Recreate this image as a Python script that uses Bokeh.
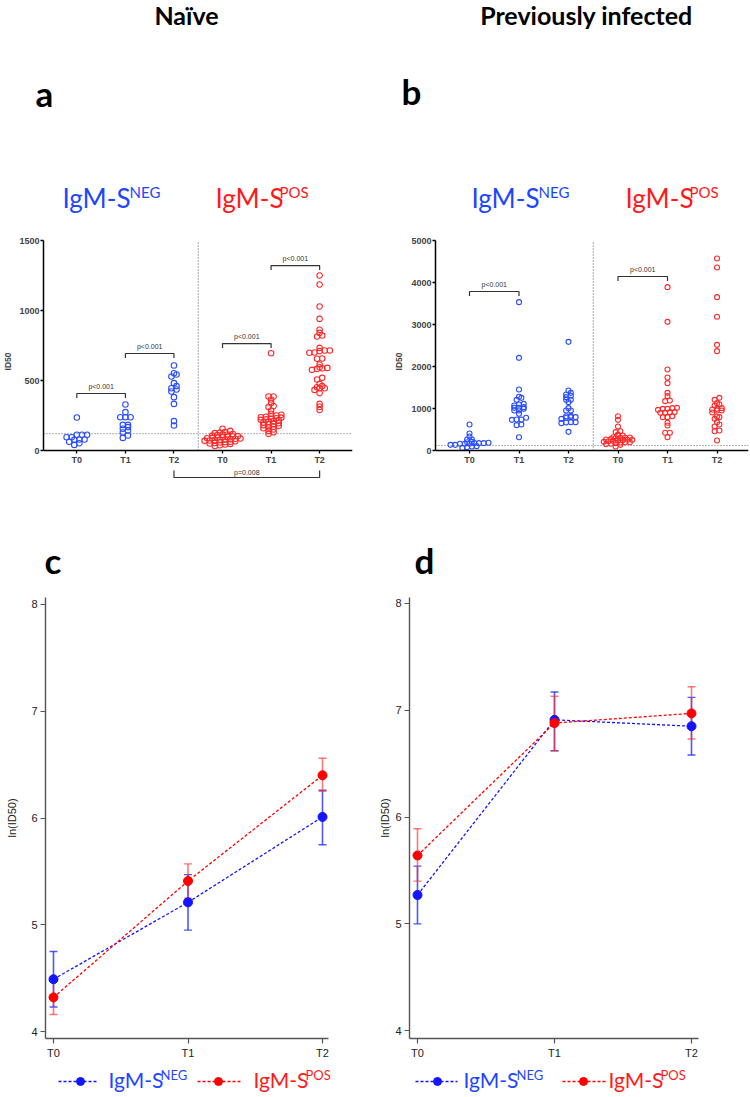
from bokeh.plotting import figure
from bokeh.layouts import column, row
from bokeh.models import Range1d, FixedTicker, Whisker, TeeHead, ColumnDataSource
from bokeh.core.properties import value
from bokeh.embed import file_html
from bokeh.resources import INLINE

# ---------------- data ----------------
TIMEPOINTS = ["T0", "T1", "T2"]
GROUP_NEG = ("IgM-S", "NEG")
GROUP_POS = ("IgM-S", "POS")
HEADERS = ["Naïve", "Previously infected"]
PANELS = ["a", "b", "c", "d"]
THRESHOLD = 120

# panel a (naive) ID50
A_NEG_T0 = [236, 112, 112, 112, 95, 95, 79, 79, 76, 62, 52, 40]
A_NEG_T1 = [329, 274, 238, 238, 238, 183, 183, 167, 155, 143, 129, 107, 90]
A_NEG_T2 = [607, 552, 543, 529, 481, 460, 445, 436, 421, 381, 333, 210, 179]
A_POS_T0 = [155, 140, 131, 128, 124, 118, 114, 112, 110, 106, 103, 100, 98, 96, 93, 90, 88, 86,
            84, 81, 79, 76, 74, 71, 69, 66, 63, 60, 57, 54, 50, 47, 43, 38, 32]
A_POS_T1 = [695, 386, 386, 364, 340, 317, 310, 286, 262, 255, 250, 245, 241, 238, 235, 230, 226,
            222, 219, 215, 210, 205, 200, 195, 190, 186, 181, 176, 170, 165, 159, 150, 140, 130, 119]
A_POS_T2 = [1250, 1186, 1029, 940, 862, 840, 821, 814, 733, 714, 714, 710, 700, 698, 657, 655, 614,
            595, 590, 588, 583, 576, 519, 507, 476, 460, 452, 445, 445, 433, 410, 333, 312, 290]

# panel b (previously infected) ID50
B_NEG_T0 = [619, 405, 333, 262, 262, 206, 198, 183, 175, 175, 175, 159, 159, 159, 135, 135, 103, 95, 79, 60]
B_NEG_T1 = [3532, 2206, 1452, 1278, 1254, 1206, 1111, 1095, 1071, 1032, 1016, 1016, 992, 952, 952,
            873, 778, 738, 738, 730, 619, 603, 317]
B_NEG_T2 = [2587, 1429, 1373, 1333, 1302, 1270, 1206, 1206, 1151, 1008, 952, 952, 825, 817, 794, 794,
            778, 754, 675, 675, 667, 651, 444]
B_POS_T0 = [817, 730, 571, 460, 437, 381, 357, 357, 317, 310, 302, 300, 290, 270, 262, 254, 254, 246,
            238, 230, 222, 206, 198, 198, 190, 175, 159, 150, 135, 95]
B_POS_T1 = [3889, 3063, 1929, 1738, 1603, 1373, 1294, 1190, 1175, 1016, 1008, 992, 992, 968, 913, 913,
            897, 897, 817, 794, 794, 659, 595, 421, 421, 317]
B_POS_T2 = [4571, 4357, 3651, 3183, 2516, 2365, 1254, 1206, 1127, 1095, 1071, 1008, 992, 976, 952, 952,
            905, 810, 794, 754, 675, 619, 571, 476, 460, 238]

A_PVALUES = ["p<0.001", "p<0.001", "p<0.001", "p<0.001", "p=0.008"]
B_PVALUES = ["p<0.001", "p<0.001"]

# panels c, d: ln(ID50) mean with error bars
C_NEG_MEAN = [4.49, 5.21, 6.01]
C_NEG_LO = [4.23, 4.95, 5.75]
C_NEG_HI = [4.75, 5.47, 6.26]
C_POS_MEAN = [4.32, 5.41, 6.40]
C_POS_LO = [4.16, 5.25, 6.25]
C_POS_HI = [4.47, 5.57, 6.56]

D_NEG_MEAN = [5.27, 6.91, 6.85]
D_NEG_LO = [5.00, 6.62, 6.58]
D_NEG_HI = [5.54, 7.17, 7.12]
D_POS_MEAN = [5.64, 6.88, 6.97]
D_POS_LO = [5.40, 6.62, 6.73]
D_POS_HI = [5.89, 7.13, 7.22]

# ---------------- styles ----------------
BLUE_TXT = "#1e46ff"
RED_TXT = "#ff1a1a"
BLUE_PT = "#2a4dff"
RED_PT = "#ff2a2a"
BLUE_LN = "#1414ff"
RED_LN = "#ff0000"
SANS = "Liberation Sans"
HUM = "Lato"


def txt(p, x, y, s, size, color="black", bold=False, align="left", baseline="middle", font=HUM):
    p.text(x=[x], y=[y], text=[s], text_font=value(font), text_font_size=value(size),
           text_font_style="bold" if bold else "normal", text_color=color,
           text_align=align, text_baseline=baseline)


def blank(width, height, x0, x1, y_top, y_bot):
    p = figure(width=width, height=height, x_range=Range1d(x0, x1), y_range=Range1d(y_bot, y_top),
               x_axis_location=None, y_axis_location=None, output_backend="svg",
               toolbar_location=None, min_border=0)
    p.grid.visible = False
    p.outline_line_color = None
    return p


def swarm(vals, center, ux, uy, d, h_frac=0.45, s_frac=0.95):
    """Row-binned dot-plot layout: points within a small vertical band share a row."""
    idx = sorted(range(len(vals)), key=lambda i: vals[i])
    xs = [float(center)] * len(vals)
    bins, cur, start = [], [], None
    for i in idx:
        ypx = vals[i] * uy
        if cur and ypx - start > h_frac * d:
            bins.append(cur)
            cur = []
        if not cur:
            start = ypx
        cur.append(i)
    if cur:
        bins.append(cur)
    for b in bins:
        n = len(b)
        for k, i in enumerate(b):
            xs[i] = center + (k - (n - 1) / 2) * s_frac * d / ux
    return xs


def xr(px_lo, px_hi, px0, ppu):
    return Range1d((px_lo - px0) / ppu, (px_hi - px0) / ppu)


# ---------------- header ----------------
header = blank(750, 228, 0, 750, 0, 228)
txt(header, 186, 14, HEADERS[0], "25px", bold=True, align="center")
txt(header, 586, 14, HEADERS[1], "25px", bold=True, align="center")
txt(header, 35, 92, PANELS[0], "35px", bold=True)
txt(header, 401, 90, PANELS[1], "35px", bold=True)
for x0, sup_dx, grp, col in [(62, 67, GROUP_NEG, BLUE_TXT), (215, 64, GROUP_POS, RED_TXT),
                             (471, 67, GROUP_NEG, BLUE_TXT), (625, 64, GROUP_POS, RED_TXT)]:
    txt(header, x0, 197, grp[0], "26px", color=col)
    txt(header, x0 + sup_dx, 191, grp[1], "15px", color=col)


# ---------------- scatter panels a, b ----------------
def scatter_panel(width, bl, br, px_left, px_right, px_t0, ppu_x, py0, ppu_y, ymax, yticks,
                  groups, d, brackets, label_standoff, bottom_bracket=None):
    y_lo = (py0 - 482) / ppu_y
    y_hi = ymax * (1 + 1e-6)
    p = figure(width=width, height=272, x_range=xr(px_left, px_right, px_t0, ppu_x),
               y_range=Range1d(y_lo, y_hi), output_backend="svg", toolbar_location=None,
               min_border_left=bl, min_border_right=br, min_border_top=12, min_border_bottom=18)
    p.grid.visible = False
    p.outline_line_color = None
    xa, ya = p.xaxis[0], p.yaxis[0]
    xa.ticker = FixedTicker(ticks=list(range(6)))
    xa.major_label_overrides = {i: TIMEPOINTS[i % 3] for i in range(6)}
    xa.fixed_location = 0
    ya.ticker = FixedTicker(ticks=yticks)
    ya.bounds = (0, ymax)
    ya.axis_label = "ID50"
    for ax in (xa, ya):
        ax.axis_line_width = 1.5
        ax.axis_line_color = "black"
        ax.major_tick_out = 3
        ax.major_tick_in = 0
        ax.minor_tick_out = 0
        ax.minor_tick_in = 0
        ax.major_tick_line_width = 1.3
        ax.major_label_text_font = SANS
        ax.major_label_text_font_size = "9px"
        ax.major_label_text_font_style = "bold"
        ax.major_label_standoff = 1
    ya.axis_label_text_font = SANS
    ya.axis_label_text_font_size = "8.5px"
    ya.axis_label_text_font_style = "bold"
    ya.axis_label_standoff = label_standoff

    x0, x1 = p.x_range.start, p.x_range.end
    p.line(x=[x0, x1], y=[THRESHOLD, THRESHOLD], line_color="#666666", line_dash="1 2", line_width=1)
    p.line(x=[2.5, 2.5], y=[0, ymax], line_color="#555555", line_dash="1 2", line_width=1)

    for gi, (vals, col) in enumerate(groups):
        xs = swarm(vals, gi, ppu_x, ppu_y, d)
        p.scatter(x=xs, y=vals, marker="circle", size=d, fill_color=None, line_color=col,
                  line_width=1.1)

    tick = 4.5 / ppu_y
    for (i0, i1, lvl, lab) in brackets:
        p.multi_line(xs=[[i0, i0, i1, i1]], ys=[[lvl - tick, lvl, lvl, lvl - tick]],
                     line_color="#333333", line_width=1.2)
        p.text(x=[(i0 + i1) / 2], y=[lvl + 3.5 / ppu_y], text=[lab], text_font=value(SANS),
               text_font_size=value("7px"), text_color="#333333", text_align="center",
               text_baseline="bottom")
    if bottom_bracket:
        i0, i1, lvl, lab = bottom_bracket
        p.multi_line(xs=[[i0, i0, i1, i1]], ys=[[lvl + 7 / ppu_y, lvl, lvl, lvl + 7 / ppu_y]],
                     line_color="#333333", line_width=1.2)
        p.text(x=[(i0 + i1) / 2], y=[lvl + 1.5 / ppu_y], text=[lab], text_font=value(SANS),
               text_font_size=value("7px"), text_color="#333333", text_align="center",
               text_baseline="bottom")
    return p


fig_a = scatter_panel(
    375, 37, 23, 37, 352, 71, 49.5, 450, 0.14, 1500, [0, 500, 1000, 1500],
    [(A_NEG_T0, BLUE_PT), (A_NEG_T1, BLUE_PT), (A_NEG_T2, BLUE_PT),
     (A_POS_T0, RED_PT), (A_POS_T1, RED_PT), (A_POS_T2, RED_PT)],
    5.5,
    [(0, 1, 407, A_PVALUES[0]), (1, 2, 693, A_PVALUES[1]),
     (3, 4, 764, A_PVALUES[2]), (4, 5, 1321, A_PVALUES[3])],
    3, bottom_bracket=(2, 5, -193, A_PVALUES[4]))

fig_b = scatter_panel(
    375, 60, 2, 435, 748, 469, 49.5, 450, 0.042, 5000, [0, 1000, 2000, 3000, 4000, 5000],
    [(B_NEG_T0, BLUE_PT), (B_NEG_T1, BLUE_PT), (B_NEG_T2, BLUE_PT),
     (B_POS_T0, RED_PT), (B_POS_T1, RED_PT), (B_POS_T2, RED_PT)],
    5,
    [(0, 1, 3786, B_PVALUES[0]), (3, 4, 4143, B_PVALUES[1])],
    4)

# ---------------- strip with c / d labels ----------------
strip = blank(750, 85, 0, 750, 500, 585)
txt(strip, 44, 559, PANELS[2], "35px", bold=True)
txt(strip, 414, 559, PANELS[3], "35px", bold=True)


# ---------------- line panels c, d ----------------
def line_panel(bl, br, bt, px_left, px_right, px_t0, ppu_x, py_top, py8, ppu_y, label_standoff,
               neg, pos):
    py4 = py8 + 4 * ppu_y  # pixel row of value 4
    y_start = 4 - (1041 - py4) / ppu_y
    y_end = 8 + (py8 - py_top) / ppu_y
    p = figure(width=375, height=476, x_range=xr(px_left, px_right, px_t0, ppu_x),
               y_range=Range1d(y_start, y_end), output_backend="svg", toolbar_location=None,
               min_border_left=bl, min_border_right=br, min_border_top=bt, min_border_bottom=20)
    p.grid.visible = False
    p.outline_line_color = None
    xa, ya = p.xaxis[0], p.yaxis[0]
    xa.ticker = FixedTicker(ticks=[0, 1, 2])
    xa.major_label_overrides = {i: TIMEPOINTS[i] for i in range(3)}
    ya.ticker = FixedTicker(ticks=[4, 5, 6, 7, 8])
    ya.axis_label = "ln(ID50)"
    ya.axis_label_text_font = SANS
    ya.axis_label_text_font_size = "11px"
    ya.axis_label_text_font_style = "normal"
    ya.axis_label_text_color = "#222222"
    ya.axis_label_standoff = label_standoff
    for ax in (xa, ya):
        ax.axis_line_width = 1.4
        ax.axis_line_color = "#555555"
        ax.major_tick_line_color = "#555555"
        ax.major_tick_line_width = 1.2
        ax.major_tick_out = 5
        ax.major_tick_in = 0
        ax.minor_tick_out = 0
        ax.minor_tick_in = 0
        ax.major_label_text_font = SANS
        ax.major_label_text_font_size = "11px"
        ax.major_label_text_color = "#222222"
        ax.major_label_standoff = 3
    xs = [0, 1, 2]
    for (mean, lo, hi), lc, ec, ea in [(neg, BLUE_LN, "#2030ff", 0.8), (pos, RED_LN, "#ff3030", 0.65)]:
        src = ColumnDataSource(dict(x=xs, lo=lo, hi=hi))
        w = Whisker(source=src, base="x", upper="hi", lower="lo", line_color=ec, line_alpha=ea,
                    line_width=1.6,
                    upper_head=TeeHead(size=8, line_color=ec, line_alpha=ea, line_width=1.4),
                    lower_head=TeeHead(size=8, line_color=ec, line_alpha=ea, line_width=1.4))
        p.add_layout(w)
        p.line(x=xs, y=mean, line_color=lc, line_dash="3 2", line_width=1.3)
        p.scatter(x=xs, y=mean, marker="circle", size=9, fill_color=lc, line_color=lc)
    return p


fig_c = line_panel(45, 47, 12, 45, 328, 53, 134.5, 597, 604, 107.5, 10,
                   (C_NEG_MEAN, C_NEG_LO, C_NEG_HI), (C_POS_MEAN, C_POS_LO, C_POS_HI))
fig_d = line_panel(34, 52, 7, 409, 698, 417, 137, 592, 598, 108.75, 1,
                   (D_NEG_MEAN, D_NEG_LO, D_NEG_HI), (D_POS_MEAN, D_POS_LO, D_POS_HI))

# ---------------- legend row ----------------
leg = blank(750, 34, 0, 750, 1061, 1095)
for (l0, l1, dot, tx, sdx, grp, lc, tc) in [
        (58, 97, 80, 108, 51, GROUP_NEG, BLUE_LN, BLUE_TXT),
        (197, 240, 218, 253, 51, GROUP_POS, RED_LN, RED_TXT),
        (415, 457, 437, 463, 52, GROUP_NEG, BLUE_LN, BLUE_TXT),
        (562, 607, 583, 608, 51, GROUP_POS, RED_LN, RED_TXT)]:
    leg.line(x=[l0, l1], y=[1081, 1081], line_color=lc, line_dash="3 2", line_width=1.3)
    leg.scatter(x=[dot], y=[1081], marker="circle", size=8, fill_color=lc, line_color=lc)
    txt(leg, tx, 1079, grp[0], "21px", color=tc)
    txt(leg, tx + sdx + 1, 1074, grp[1], "13px", color=tc)

layout = column(header, row(fig_a, fig_b), strip, row(fig_c, fig_d), leg)

with open("out.html", "w") as f:
    f.write(file_html(layout, INLINE))
